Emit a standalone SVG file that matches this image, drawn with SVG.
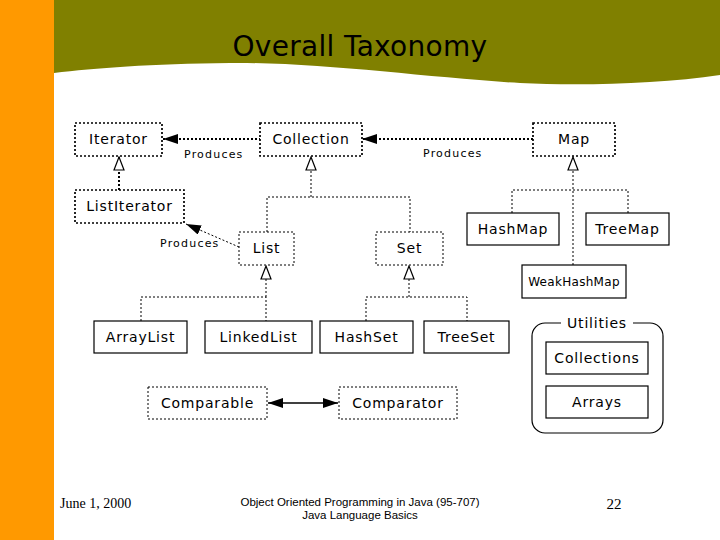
<svg xmlns="http://www.w3.org/2000/svg" width="720" height="540" viewBox="0 0 720 540">
<style>
.lbl{font-family:"DejaVu Sans",sans-serif;font-size:14px;letter-spacing:0.8px;text-anchor:middle;fill:#000}
.small{font-family:"DejaVu Sans",sans-serif;font-size:11px;letter-spacing:1.2px;fill:#000}
.bold{fill:#fff;stroke:#000;stroke-width:1.7;stroke-dasharray:2 2}
.dot{fill:#fff;stroke:#000;stroke-width:1;stroke-dasharray:2 2}
.solid{fill:#fff;stroke:#000;stroke-width:1.2}
.con{fill:none;stroke:#000;stroke-width:1;stroke-dasharray:2 2}
.prod{fill:none;stroke:#000;stroke-width:2;stroke-dasharray:2 2}
.line{fill:none;stroke:#000;stroke-width:1.3}
</style>
<defs>
<marker id="tri" viewBox="0 0 15 12" refX="14" refY="6" markerWidth="15" markerHeight="12" markerUnits="userSpaceOnUse" orient="auto">
<path d="M1,1 L14,6 L1,11 Z" fill="#fff" stroke="#000" stroke-width="1.2"/>
</marker>
<marker id="arr" viewBox="0 0 15 10" refX="15" refY="5" markerWidth="15" markerHeight="10" markerUnits="userSpaceOnUse" orient="auto-start-reverse">
<path d="M0,0 L15,5 L0,10 Z" fill="#000"/>
</marker>
</defs>
<rect x="0" y="0" width="720" height="540" fill="#fff"/>
<rect x="0" y="0" width="54" height="540" fill="#FF9900"/>
<path d="M54,0 L720,0 L720,75 C660,84 580,86 520,83 C430,78 320,62 230,63 C150,64 95,68 54,73 Z" fill="#808000"/>
<text x="360" y="56" font-family="DejaVu Sans,sans-serif" font-size="28" letter-spacing="0.3" text-anchor="middle" fill="#000">Overall Taxonomy</text>

<g id="connectors">
<line class="prod" x1="261" y1="139" x2="163" y2="139" marker-end="url(#arr)"/>
<line class="prod" x1="533" y1="139" x2="362" y2="139" marker-end="url(#arr)"/>
<line class="con" x1="239" y1="247" x2="186" y2="224" marker-end="url(#arr)"/>
<line class="prod" x1="119" y1="190" x2="119" y2="157" marker-end="url(#tri)"/>
<path class="con" d="M267,232 V197 H410 V232"/>
<line class="con" x1="311" y1="197" x2="311" y2="157" marker-end="url(#tri)"/>
<path class="con" d="M141,321 V297 H266 V321"/>
<line class="con" x1="266" y1="297" x2="266" y2="266" marker-end="url(#tri)"/>
<path class="con" d="M366,321 V297 H467 V321"/>
<line class="con" x1="409" y1="297" x2="409" y2="266" marker-end="url(#tri)"/>
<path class="con" d="M512,213 V190 H628 V213"/>
<line class="con" x1="573" y1="265" x2="573" y2="157" marker-end="url(#tri)"/>
<line class="line" x1="268" y1="403" x2="338" y2="403" marker-start="url(#arr)" marker-end="url(#arr)"/>
<text class="small" x="184" y="158">Produces</text>
<text class="small" x="423" y="157">Produces</text>
<text class="small" x="160" y="247">Produces</text>
</g>

<g id="iterator"><rect class="bold" x="75" y="123" width="87" height="33"/><text class="lbl" x="118.5" y="144">Iterator</text></g>
<g id="collection"><rect class="bold" x="260" y="123" width="102" height="33"/><text class="lbl" x="311" y="144">Collection</text></g>
<g id="map"><rect class="bold" x="533" y="123" width="82" height="33"/><text class="lbl" x="574" y="144">Map</text></g>
<g id="listiterator"><rect class="bold" x="75" y="190" width="109" height="33"/><text class="lbl" x="129.5" y="211">ListIterator</text></g>
<g id="list"><rect class="dot" x="239" y="232" width="55" height="33"/><text class="lbl" x="266.5" y="253">List</text></g>
<g id="set"><rect class="dot" x="376" y="232" width="67" height="33"/><text class="lbl" x="409.5" y="253">Set</text></g>
<g id="hashmap"><rect class="solid" x="467" y="213" width="92" height="32"/><text class="lbl" x="513" y="234">HashMap</text></g>
<g id="treemap"><rect class="solid" x="586" y="213" width="83" height="32"/><text class="lbl" x="627.5" y="234">TreeMap</text></g>
<g id="weakhashmap"><rect class="solid" x="522" y="265" width="104" height="33"/><text class="lbl" x="574" y="286" style="font-size:12px;letter-spacing:0.3px">WeakHashMap</text></g>
<g id="arraylist"><rect class="solid" x="94" y="321" width="93" height="32"/><text class="lbl" x="140.5" y="342">ArrayList</text></g>
<g id="linkedlist"><rect class="solid" x="205" y="321" width="107" height="32"/><text class="lbl" x="258.5" y="342">LinkedList</text></g>
<g id="hashset"><rect class="solid" x="320" y="321" width="93" height="32"/><text class="lbl" x="366.5" y="342">HashSet</text></g>
<g id="treeset"><rect class="solid" x="424" y="321" width="85" height="32"/><text class="lbl" x="466.5" y="342">TreeSet</text></g>
<g id="comparable"><rect class="dot" x="148" y="387" width="119" height="32"/><text class="lbl" x="207.5" y="408">Comparable</text></g>
<g id="comparator"><rect class="dot" x="339" y="387" width="118" height="32"/><text class="lbl" x="398" y="408">Comparator</text></g>
<g id="utilities">
<rect x="532" y="323" width="131" height="110" rx="13" fill="#fff" stroke="#000" stroke-width="1.2"/>
<rect x="561" y="315" width="72" height="14" fill="#fff"/>
<text class="lbl" x="597" y="328">Utilities</text>
</g>
<g id="collections"><rect class="solid" x="546" y="342" width="102" height="32"/><text class="lbl" x="597" y="363">Collections</text></g>
<g id="arrays"><rect class="solid" x="546" y="386" width="102" height="32"/><text class="lbl" x="597" y="407">Arrays</text></g>

<text x="60" y="508" font-family="Liberation Serif,serif" font-size="14" fill="#000">June 1, 2000</text>
<text x="360" y="506" font-family="Liberation Sans,sans-serif" font-size="11.5" text-anchor="middle" fill="#000">Object Oriented Programming in Java  (95-707)</text>
<text x="360" y="519" font-family="Liberation Sans,sans-serif" font-size="11.5" text-anchor="middle" fill="#000">Java Language Basics</text>
<text x="614" y="509" font-family="Liberation Serif,serif" font-size="15" text-anchor="middle" fill="#000">22</text>
</svg>
